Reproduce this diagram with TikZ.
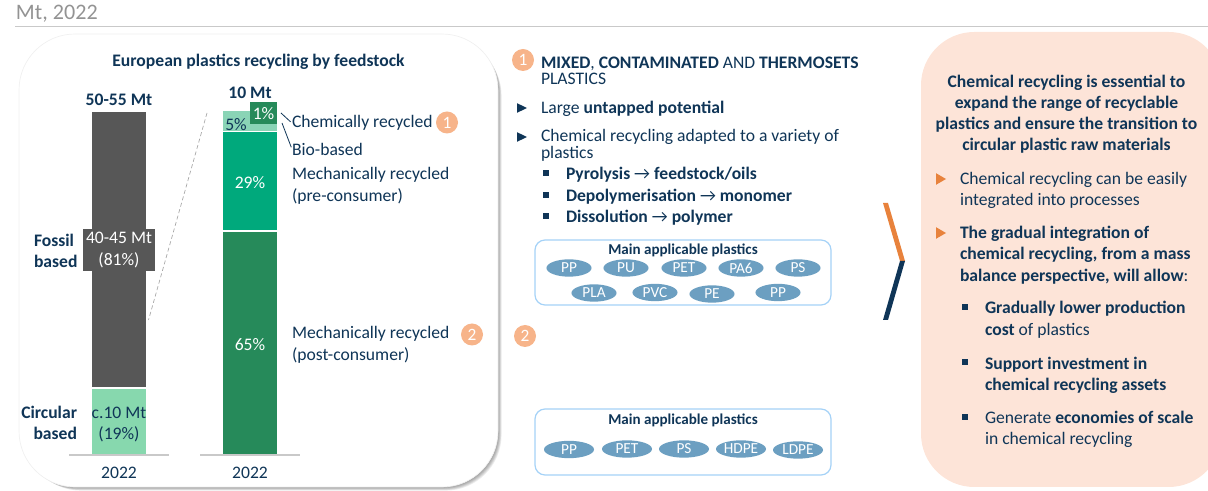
\documentclass[tikz,border=0pt]{standalone}
\usepackage{fontspec}
\setmainfont{Carlito}
\definecolor{navy}{HTML}{0F3557}
\definecolor{darkbar}{HTML}{575757}
\definecolor{lightgreen}{HTML}{87D8AE}
\definecolor{midgreen}{HTML}{00A97C}
\definecolor{deepgreen}{HTML}{268A5A}
\definecolor{paleteal}{HTML}{8AD4B6}
\definecolor{badge}{HTML}{F7B48A}
\definecolor{pill}{HTML}{6C9FC1}
\definecolor{boxline}{HTML}{A5D2F7}
\definecolor{peach}{HTML}{FDE4D8}
\definecolor{chevorange}{HTML}{E8823C}
\definecolor{rulegray}{HTML}{C9C9C9}
\newcommand{\tribullet}[4]{\fill[#3] (#1,#2-#4) -- (#1+10,#2) -- (#1,#2+#4) -- cycle;}
\newcommand{\sqbullet}[2]{\fill[navy] (#1,#2-2.8) rectangle (#1+5.6,#2+2.8);}
\newcommand{\thinarrow}{\textmd{→}}
\tikzset{
  x=0.75pt,y=-0.75pt,
  txt/.style={inner sep=0pt,outer sep=0pt,text=navy,font=\fontsize{13.2}{16}\selectfont,align=left,anchor=west,yshift=-0.5pt},
  ctr/.style={txt,align=center,anchor=center},
  bad/.style={circle,fill=badge,inner sep=0pt,minimum size=16.5pt,text=white,font=\fontsize{13}{14}\selectfont},
  oval/.style={ellipse,fill=pill,inner sep=0pt,minimum width=33.8pt,minimum height=13pt,text=white,font=\fontsize{11.5}{12}\selectfont},
  ovalb/.style={oval,minimum width=37.5pt},
  tbox/.style={draw=boxline,line width=0.9pt,rounded corners=7.5pt,fill=white},
  barlab/.style={ctr,text=white},
  lead/.style={draw=navy,line width=0.6pt,shorten >=1.5pt},
}
\usetikzlibrary{shapes.geometric}
\begin{document}
\begin{tikzpicture}
\useasboundingbox (0,0) rectangle (1208,491);
\clip (0,0) rectangle (1208,491);
% header
\node[txt,text=gray!85,font=\fontsize{16.6}{18}\selectfont] (hdr) at (16,13) {Mt, 2022};
\fill[rulegray] (15,26) rectangle (1208,27.4);
% left panel
\foreach \s in {6,5,4,3,2,1}
  \fill[black,opacity=0.07,rounded corners=42pt] (19+\s,34+\s) rectangle (498+\s*0.6,487+\s*0.6);
\draw[black!6,fill=white,rounded corners=42pt,line width=0.5pt] (19,34) rectangle (498,487);
\node[ctr,font=\fontsize{13.2}{15}\bfseries\selectfont] (title) at (258.5,61) {European plastics recycling by feedstock};
% left bar
\fill[darkbar] (92,112) rectangle (146,387.5);
\fill[lightgreen] (92,389) rectangle (146,454);
\draw[rulegray,line width=1pt] (69,455) -- (169,455);
\node[ctr,font=\fontsize{13.2}{15}\bfseries\selectfont] (t5055) at (119,99) {50-55 Mt};
\node[barlab,fill=darkbar,minimum width=54pt,minimum height=31.5pt] (fossilval) at (119,249.5) {40-45 Mt\\(81\%)};
\node[ctr] (circval) at (119,412) {c.10 Mt};
\node[ctr] (circpct) at (119,433.5) {(19\%)};
\node[txt,font=\fontsize{13.2}{16}\bfseries\selectfont] (fossil) at (34,250) {Fossil\\based};
\node[txt,anchor=east,align=right,font=\fontsize{13.2}{16}\bfseries\selectfont] (circ) at (77,422) {Circular\\based};
\node[ctr] (y1) at (119,472) {2022};
% right bar
\fill[paleteal] (223,111) rectangle (277,131);
\fill[midgreen] (223,132.5) rectangle (277,230.5);
\fill[deepgreen] (223,232.5) rectangle (277,454);
\draw[rulegray,line width=1pt] (200,455) -- (300,455);
\node[ctr,font=\fontsize{13.2}{15}\bfseries\selectfont] (t10) at (250,92) {10 Mt};
\node[ctr,anchor=center] (p5) at (236,123.5) {5\%};
\node[barlab,fill=deepgreen,minimum width=20.5pt,minimum height=16.5pt] (p1) at (263.5,112.5) {1\%};
\node[barlab] (p29) at (250,181.5) {29\%};
\node[barlab] (p65) at (250,343.5) {65\%};
\node[ctr] (y2) at (250,472) {2022};
% zoom line
\coordinate (zoomA) at (207,113);
\coordinate (zoomB) at (148.5,320);
\draw[gray!70,line width=0.5pt,dash pattern=on 3pt off 2pt] (zoomA) -- (zoomB);
% labels
\node[txt] (chem) at (292,122.5) {Chemically recycled};
\node[txt] (bio) at (292,148.5) {Bio-based};
\node[txt] (pre) at (292,185) {Mechanically recycled\\(pre-consumer)};
\node[txt] (post) at (292,344) {Mechanically recycled\\(post-consumer)};
\coordinate (leadA) at (281,113);
\coordinate (leadB) at (282,123);
\draw[lead] (leadA) -- (chem.west);
\draw[lead] (leadB) -- (bio.west);
\node[bad] (b1a) at (447,122.5) {1};
\node[bad] (b2a) at (472,334.5) {2};
% middle
\node[bad] (b1b) at (523,60) {1};
\node[txt,font=\fontsize{13.2}{12}\selectfont] (mix) at (541,70.5) {\textbf{MIXED}, \textbf{CONTAMINATED} AND \textbf{THERMOSETS}\\PLASTICS};
\tribullet{517}{108}{navy}{4.8}
\node[txt] (large) at (541,108) {Large \textbf{untapped potential}};
\tribullet{517}{137}{navy}{4.8}
\node[txt,font=\fontsize{13.2}{12.6}\selectfont] (adapt) at (541,145) {Chemical recycling adapted to a variety of\\plastics};
\sqbullet{543}{173}
\sqbullet{543}{195}
\sqbullet{543}{216}
\node[txt] (pyro) at (566,174.5) {\textbf{Pyrolysis \thinarrow{} feedstock/oils}};
\node[txt] (depo) at (566,196.5) {\textbf{Depolymerisation \thinarrow{} monomer}};
\node[txt] (diss) at (566,217.5) {\textbf{Dissolution \thinarrow{} polymer}};
% box 1
\draw[tbox] (535,240) rectangle (831,305);
\node[ctr,font=\fontsize{11.3}{12}\bfseries\selectfont] (m1) at (683,249.5) {Main applicable plastics};
\node[oval] (a1) at (569,268) {PP};
\node[oval] (a2) at (626,268) {PU};
\node[oval] (a3) at (684,268) {PET};
\node[oval] (a4) at (741,268) {PA6};
\node[oval] (a5) at (798,268) {PS};
\node[oval] (a6) at (594,293) {PLA};
\node[oval] (a7) at (655,292.5) {PVC};
\node[oval] (a8) at (712,294) {PE};
\node[oval] (a9) at (778,292.5) {PP};
% section 2
\node[bad] (b2b) at (525,336) {2};
\draw[tbox] (535,409) rectangle (831,475);
\node[ctr,font=\fontsize{11.3}{12}\bfseries\selectfont] (m2) at (683,420) {Main applicable plastics};
\node[ovalb] (c1) at (569,449.5) {PP};
\node[ovalb] (c2) at (627,449) {PET};
\node[ovalb] (c3) at (684,449) {PS};
\node[ovalb] (c4) at (741,449) {HDPE};
\node[ovalb] (c5) at (798,450) {LDPE};
% chevron
\fill[chevorange] (883,203) -- (888,203) -- (905,261) -- (900,261) -- cycle;
\fill[navy] (900,261) -- (905,261) -- (888,320) -- (883,320) -- cycle;
% right panel
\fill[peach,rounded corners=40pt] (921,32) rectangle (1222,487);
\node[ctr,font=\fontsize{13.2}{15.9}\bfseries\selectfont] (rt) at (1066.5,113.5) {Chemical recycling is essential to\\expand the range of recyclable\\plastics and ensure the transition to\\circular plastic raw materials};
\tribullet{936}{179}{chevorange}{5.8}
\node[txt] (r1) at (960,189.5) {Chemical recycling can be easily\\integrated into processes};
\tribullet{936}{233}{chevorange}{5.8}
\node[txt] (r2) at (960,254.5) {\textbf{The gradual integration of}\\\textbf{chemical recycling, from a mass}\\\textbf{balance perspective, will allow}:};
\sqbullet{962}{307}
\node[txt] (r3) at (985,319) {\textbf{Gradually lower production}\\\textbf{cost} of plastics};
\sqbullet{962}{362}
\node[txt] (r4) at (985,374.5) {\textbf{Support investment in}\\\textbf{chemical recycling assets}};
\sqbullet{962}{417}
\node[txt] (r5) at (985,428.5) {Generate \textbf{economies of scale}\\in chemical recycling};
\end{tikzpicture}
\end{document}
